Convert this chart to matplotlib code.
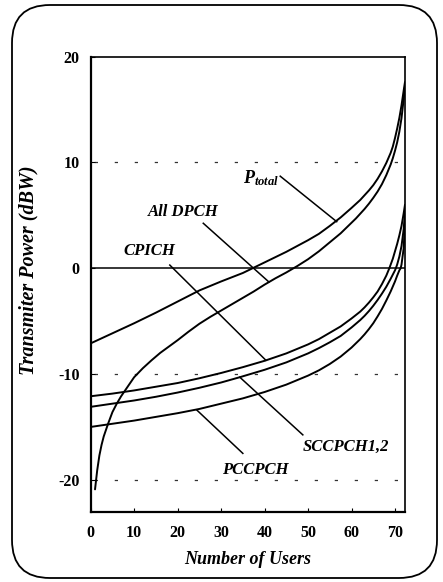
import matplotlib
matplotlib.use("Agg")
import matplotlib.pyplot as plt
from matplotlib.patches import FancyBboxPatch

# ---------------- data ----------------
x_ptotal = [0, 5, 10, 15, 20, 25, 30, 35, 40, 45, 50, 52.5, 55, 57.5, 60, 62, 64, 65, 66,
            67, 68, 69, 69.5, 70, 70.5, 71, 71.5, 72, 72.3]
y_ptotal = [-7.1, -6.15, -5.2, -4.2, -3.15, -2.1, -1.25, -0.45, 0.55, 1.55, 2.65, 3.25, 4.0,
            4.8, 5.7, 6.45, 7.35, 7.85, 8.45, 9.15, 9.95, 10.9, 11.5, 12.3, 13.2, 14.2, 15.4,
            16.8, 17.6]

x_dpch = [1, 1.5, 2, 2.5, 3, 3.5, 4, 5, 6, 7, 8, 10, 12, 14, 16, 18, 20, 22.5, 25, 27.5, 30,
          32.5, 35, 37.5, 40, 42.5, 45, 47.5, 50, 52.5, 55, 57.5, 60, 61, 62, 63, 64, 65,
          66, 67, 68, 69, 69.5, 70, 70.5, 71, 71.5, 72, 72.3]
y_dpch = [-20.9, -19.1, -17.7, -16.7, -15.9, -15.3, -14.7, -13.6, -12.8, -12.1, -11.5, -10.3,
          -9.45, -8.7, -8.0, -7.4, -6.8, -6.0, -5.25, -4.6, -4.0, -3.4, -2.8, -2.2, -1.55,
          -0.95, -0.4, 0.2, 0.85, 1.6, 2.45, 3.3, 4.3, 4.7, 5.15, 5.6, 6.1, 6.65, 7.25, 7.95,
          8.8, 9.8, 10.4, 11.1, 11.9, 12.9, 14.2, 16.0, 17.2]

x_cpich = [0, 5, 10, 15, 20, 25, 30, 35, 40, 45, 50, 52.5, 55, 57.5, 60, 62, 63, 64, 65, 66,
           67, 68, 68.7, 69.5, 70, 70.5, 71, 71.5, 72, 72.3]
y_cpich = [-12.1, -11.85, -11.55, -11.2, -10.85, -10.4, -9.9, -9.35, -8.75, -8.05, -7.2, -6.7,
           -6.1, -5.5, -4.75, -4.1, -3.7, -3.25, -2.75, -2.2, -1.5, -0.7, 0.0, 0.9, 1.6, 2.3,
           3.1, 4.0, 5.2, 6.0]

x_sccpch = [0, 5, 10, 15, 20, 25, 30, 34.3, 40, 45, 50, 52.5, 55, 57.5, 60, 62, 63, 64, 65,
            66, 67, 68, 69, 70, 70.2, 70.5, 71, 71.5, 72, 72.3]
y_sccpch = [-13.1, -12.8, -12.5, -12.15, -11.75, -11.3, -10.8, -10.3, -9.6, -8.9, -8.05, -7.55,
            -7.0, -6.4, -5.6, -4.9, -4.5, -4.05, -3.55, -3.0, -2.4, -1.75, -1.0, -0.2, 0.0,
            0.35, 1.1, 2.1, 3.7, 5.3]

x_pccpch = [0, 5, 10, 15, 20, 25, 30, 35, 40, 45, 50, 52.5, 55, 57.5, 60, 62, 63, 64, 65, 66,
            67, 68, 69, 70, 70.5, 71, 71.3, 71.5, 72, 72.3]
y_pccpch = [-15.0, -14.7, -14.4, -14.05, -13.7, -13.3, -12.8, -12.3, -11.7, -11.0, -10.15,
            -9.65, -9.05, -8.35, -7.5, -6.7, -6.25, -5.75, -5.2, -4.55, -3.85, -3.05, -2.2,
            -1.25, -0.7, -0.2, 0.0, 0.35, 1.9, 4.5]

x_ticks = [0, 10, 20, 30, 40, 50, 60, 70]
y_ticks = [-20, -10, 0, 10, 20]
dashed_levels = [10, -10, -20]

x_label = "Number of Users"
y_label = "Transmiter Power (dBW)"

# ---------------- figure ----------------
plt.rcParams['font.family'] = ['Liberation Serif', 'DejaVu Serif']
plt.rcParams['axes.unicode_minus'] = False
plt.rcParams['mathtext.fontset'] = 'custom'
plt.rcParams['mathtext.it'] = 'Liberation Serif:italic:bold'
plt.rcParams['mathtext.rm'] = 'Liberation Serif:bold'

fig = plt.figure(figsize=(4.43, 5.82), dpi=100)
ax = fig.add_axes([0.2047, 0.1210, 0.7095, 0.7817])

# rounded border
border = FancyBboxPatch((0.12, 0.04), 4.25, 5.73,
                        boxstyle="round,pad=0,rounding_size=0.38",
                        transform=fig.dpi_scale_trans, fill=False,
                        edgecolor='black', linewidth=1.3, zorder=0)
fig.patches.append(border)

for lv in dashed_levels:
    ax.axhline(lv, color='#333333', linewidth=0.9, linestyle=(13.4, (2.6, 13.4)), zorder=1)
ax.axhline(0, color='black', linewidth=1.1, zorder=1)

lw = 1.4
for xs, ys in [(x_ptotal, y_ptotal), (x_dpch, y_dpch), (x_cpich, y_cpich),
               (x_sccpch, y_sccpch), (x_pccpch, y_pccpch)]:
    ax.plot(xs, ys, color='black', linewidth=lw, solid_joinstyle='round',
            solid_capstyle='round', zorder=3)

ax.set_xlim(0, 72.3)
ax.set_ylim(-23, 20)
ax.set_xticks(x_ticks)
ax.set_yticks(y_ticks)
ax.tick_params(axis='both', length=3, width=0.8, direction='in', labelsize=11.5)
ax.tick_params(axis='x', pad=10)
ax.tick_params(axis='y', pad=8)
for lab in ax.get_xticklabels() + ax.get_yticklabels():
    lab.set_fontweight('bold')

for side in ['left', 'bottom']:
    ax.spines[side].set_linewidth(1.6)
for side in ['top', 'right']:
    ax.spines[side].set_linewidth(1.2)

ax.set_xlabel(x_label, fontsize=13, fontweight='bold', fontstyle='italic', labelpad=7)
ax.set_ylabel(y_label, fontsize=14.5, fontweight='bold', fontstyle='italic')
ax.yaxis.set_label_coords(-0.165, 0.53)

# annotations
ann_kw = dict(fontsize=12, fontstyle='italic', fontweight='bold', color='black', zorder=4)
line_kw = dict(color='black', linewidth=1.1, zorder=3)

ax.text(35.0, 8.5, r'$P_{total}$', ha='left', va='center', fontsize=13, zorder=4)
ax.plot([43.6, 56.6], [8.7, 4.4], **line_kw)

ax.text(21.3, 5.3, 'All DPCH', ha='center', va='center', **ann_kw)
ax.plot([25.9, 41.0], [4.25, -1.3], **line_kw)

ax.text(13.6, 1.6, 'CPICH', ha='center', va='center', **ann_kw)
ax.plot([18.2, 40.3], [0.3, -8.7], **line_kw)

ax.text(58.8, -16.9, 'SCCPCH1,2', ha='center', va='center', **ann_kw)
ax.plot([48.8, 34.3], [-15.75, -10.3], **line_kw)

ax.text(37.8, -19.1, 'PCCPCH', ha='center', va='center', **ann_kw)
ax.plot([35.0, 24.4], [-17.5, -13.4], **line_kw)

fig.savefig('out.png', dpi=100)
